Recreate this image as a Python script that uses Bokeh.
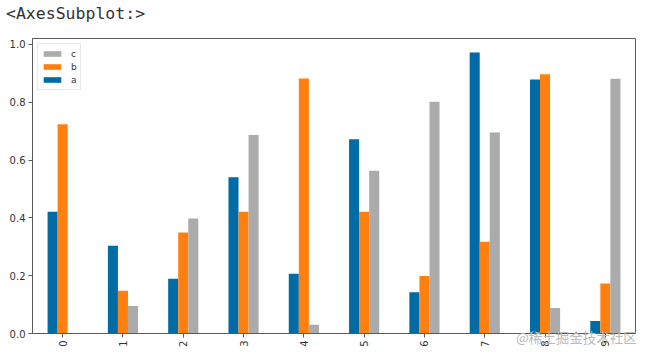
from bokeh.plotting import figure
from bokeh.models import (FactorRange, Range1d, ColumnDataSource, Legend, LegendItem,
                          Div, SingleIntervalTicker, NumeralTickFormatter)
from bokeh.layouts import column
from bokeh.transform import dodge
from bokeh.embed import file_html
from bokeh.resources import INLINE
import math

categories = ["0", "1", "2", "3", "4", "5", "6", "7", "8", "9"]
a = [0.421, 0.304, 0.189, 0.541, 0.207, 0.672, 0.143, 0.972, 0.879, 0.043]
b = [0.724, 0.148, 0.349, 0.421, 0.882, 0.421, 0.199, 0.317, 0.897, 0.173]
c = [0.0, 0.095, 0.398, 0.687, 0.030, 0.563, 0.802, 0.695, 0.088, 0.881]
series_names = ["a", "b", "c"]
colors = ["#006BA4", "#FF800E", "#ABABAB"]
title_text = "<AxesSubplot:>"
watermark = "@稀土掘金技术社区"

src = ColumnDataSource(dict(cat=categories, a=a, b=b, c=c))
ymax = max(a + b + c) * 1.05

p = figure(width=647, height=357, output_backend="svg", toolbar_location=None,
           x_range=FactorRange(*categories, range_padding=0),
           y_range=Range1d(0, ymax),
           min_border_left=32, min_border_right=12, min_border_top=38, min_border_bottom=24)
p.background_fill_color = "white"
p.border_fill_color = "white"
p.xgrid.visible = False
p.ygrid.visible = False
p.outline_line_color = "#5a5a5a"
p.outline_line_width = 1

bw = 0.5 / 3
renderers = []
for i, (name, col) in enumerate(zip(series_names, colors)):
    r = p.vbar(x=dodge("cat", (i - 1) * bw, range=p.x_range), top=name, width=bw,
               source=src, fill_color=col, line_color=None)
    renderers.append(r)

for ax in (p.xaxis[0], p.yaxis[0]):
    ax.axis_line_color = "#5a5a5a"
    ax.major_tick_line_color = "#5a5a5a"
    ax.major_tick_out = 4
    ax.major_tick_in = 0
    ax.minor_tick_line_color = None
    ax.major_label_text_font = "DejaVu Sans"
    ax.major_label_text_font_size = "10px"
    ax.major_label_text_color = "#333333"
    ax.major_label_standoff = 3
p.xaxis.major_label_orientation = math.pi / 2
p.yaxis.ticker = SingleIntervalTicker(interval=0.2)
p.yaxis.formatter = NumeralTickFormatter(format="0.0")

legend = Legend(items=[LegendItem(label=series_names[k], renderers=[renderers[k]]) for k in (2, 1, 0)],
                location="top_left", margin=5, padding=3, spacing=0,
                glyph_width=22, glyph_height=7, label_height=13, label_width=0, label_standoff=8,
                label_text_font="DejaVu Sans", label_text_font_size="9px",
                label_text_color="#333333",
                border_line_color="#d0d0d0", border_line_width=1,
                background_fill_color="white", background_fill_alpha=0.8)
p.add_layout(legend)

title_div = Div(text=title_text.replace("<", "&lt;").replace(">", "&gt;"),
                styles={"position": "absolute", "left": "1px", "top": "-3px",
                        "color": "#333333", "font-size": "16.5px",
                        "font-family": "DejaVu Sans Mono", "z-index": "10",
                        "pointer-events": "none", "white-space": "nowrap"})
wm = Div(text=watermark, styles={"position": "absolute", "left": "511px", "top": "323px",
                                 "color": "#bbbbbb", "font-size": "13.5px",
                                 "font-family": "Noto Sans CJK SC", "z-index": "10",
                                 "pointer-events": "none", "white-space": "nowrap"})
root = column(p, title_div, wm, spacing=0)

open("out.html", "w").write(file_html(root, INLINE))
